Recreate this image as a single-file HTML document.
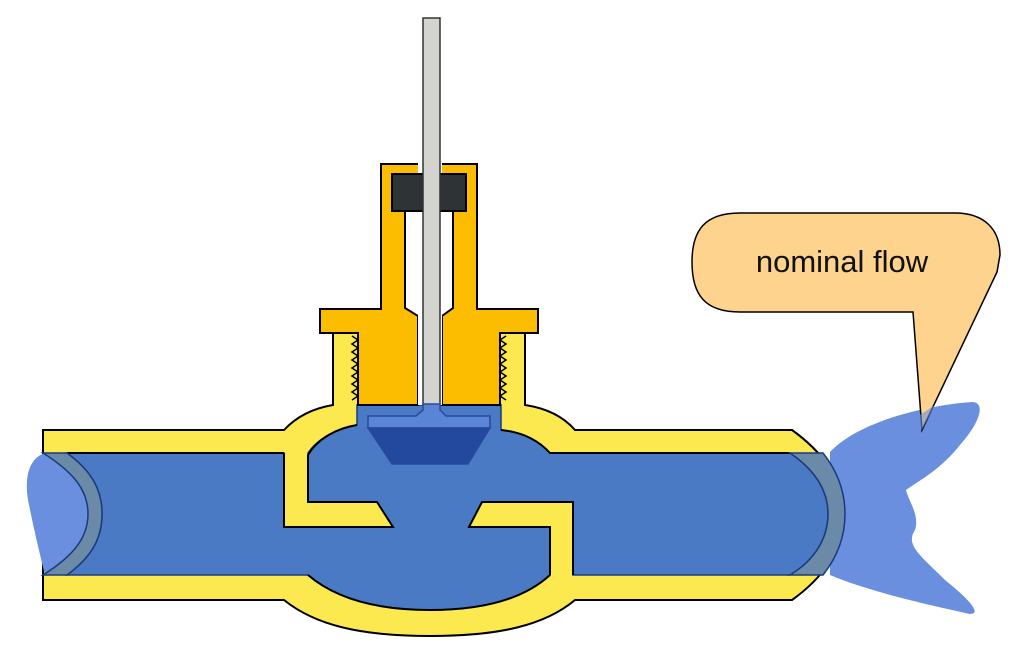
<!DOCTYPE html>
<html><head><meta charset="utf-8"><style>html,body{margin:0;padding:0;background:#fff}svg{display:block}</style></head>
<body>
<svg width="1024" height="646" viewBox="0 0 1024 646" xmlns="http://www.w3.org/2000/svg">
<!-- yellow body -->
<path d="M43,430 L284,430 C298,415 315,408 333,405 L333,333 L525,333 L525,405 C545,408 562,415 575,430 L792,430 C820,450 845,480 845,515 C845,550 820,580 792,600 L575,600 C545,625 500,636 430,636 C360,636 315,625 284,600 L43,600 Z" fill="#fce94f" stroke="#000" stroke-width="2"/>
<!-- outflow blob right -->
<path d="M830,452 C860,420 930,405 972,402 C985,402 982,420 960,445 C940,470 920,480 906,490 C908,500 920,515 915,530 C905,545 920,555 945,580 C970,600 982,614 970,614 C930,605 870,592 830,575 Z" fill="#6a8fdf"/>
<!-- blue fluid -->
<path d="M67,453 L284,453 L284,527 L393,527 L377,502 L308,502 L308,453 C318,438 338,428 357,425 L357,405 L501,405 L501,430 C522,432 538,440 550,453 L790,453 C815,470 828,490 828,514 C828,538 815,560 790,575 L573,575 L573,502 L482,502 L469,527 L550,527 L550,575 C525,598 485,610 430,610 C375,610 335,598 308,575 L67,575 C90,558 102,540 102,514 C102,488 90,470 67,453 Z" fill="#4a7ac4" stroke="#1a3a80" stroke-width="1.5"/>
<!-- baffle outlines -->
<path d="M284,453 L284,527 L393,527 L377,502 L308,502 L308,455" fill="none" stroke="#000" stroke-width="2"/>
<path d="M573,575 L573,502 L482,502 L469,527 L550,527 L550,575" fill="none" stroke="#000" stroke-width="2"/>
<path d="M308,455 C318,438 338,428 357,425" fill="none" stroke="#000" stroke-width="2"/>
<path d="M501,430 C522,432 538,440 550,453 L790,453" fill="none" stroke="#000" stroke-width="2"/>
<path d="M67,453 L284,453 M308,575 C335,598 375,610 430,610 C485,610 525,598 550,575" fill="none" stroke="#000" stroke-width="2"/>
<!-- left blob -->
<path d="M45,453 C30,458 24,475 28,500 C34,530 40,555 45,575 C70,558 88,540 88,514 C88,488 70,470 45,453 Z" fill="#6a8fdf"/>
<!-- grey translucent bands -->
<path d="M43,453 L67,453 C90,470 102,488 102,514 C102,540 90,558 67,575 L43,575 C70,558 88,540 88,514 C88,488 70,470 43,453 Z" fill="#6a8aa8" stroke="#1a3a80" stroke-width="1.5"/>
<path d="M790,453 L823,453 C838,472 845,492 845,514 C845,536 838,556 823,575 L790,575 C815,560 828,538 828,514 C828,490 815,470 790,453 Z" fill="#6a8aa8" stroke="#1a3a80" stroke-width="1.5"/>
<!-- orange bonnet -->
<path d="M381,164 L477,164 L477,309 L538,309 L538,333 L500,333 L500,405 L442,405 L442,316 L453,308 L453,211 L405,211 L405,308 L418,316 L418,405 L358,405 L358,333 L320,333 L320,309 L381,309 Z" fill="#fcbc00" stroke="#000" stroke-width="2"/>
<rect x="418" y="200" width="24" height="205" fill="#fff"/>
<rect x="418" y="163" width="24" height="12" fill="#fff"/>
<!-- threads -->
<path d="M352,336 l6,4 -6,4 6,4 -6,4 6,4 -6,4 6,4 -6,4 6,4 -6,4 6,4 -6,4 6,4 -6,4 6,4 -6,4" fill="none" stroke="#000" stroke-width="1.5"/>
<path d="M506,336 l-6,4 6,4 -6,4 6,4 -6,4 6,4 -6,4 6,4 -6,4 6,4 -6,4 6,4 -6,4 6,4 -6,4 6,4" fill="none" stroke="#000" stroke-width="1.5"/>
<!-- packing -->
<rect x="392" y="174" width="74" height="37" fill="#2e3436" stroke="#000" stroke-width="2"/>
<!-- stem -->
<rect x="423" y="18" width="17" height="388" fill="#d3d3cf" stroke="#333" stroke-width="1.5"/>
<!-- disk -->
<path d="M423,404 L423,410 L416,416 L368,416 L368,428 L490,428 L490,416 L446,416 L440,410 L440,404 Z" fill="#5a84d6" stroke="#2a4a9a" stroke-width="1.5"/>
<path d="M368,428 L490,428 L468,464 L392,464 Z" fill="#23499f" stroke="#2a4a9a" stroke-width="1.5"/>
<!-- callout -->
<path d="M740,213 L955,213 C985,213 1000,230 1000,255 L997,272 L922,430 L913,312 L740,312 C705,312 692,295 692,262 C692,230 705,213 740,213 Z" fill="#fdd38e" stroke="#000" stroke-width="1.5"/>
<path d="M912,420 L922,430 L935,405 Z" fill="#6a8fdf" opacity="0.6"/>
<text x="842" y="272" font-family="Liberation Sans, sans-serif" font-size="31" text-anchor="middle" fill="#111">nominal flow</text>
</svg>
</body></html>
